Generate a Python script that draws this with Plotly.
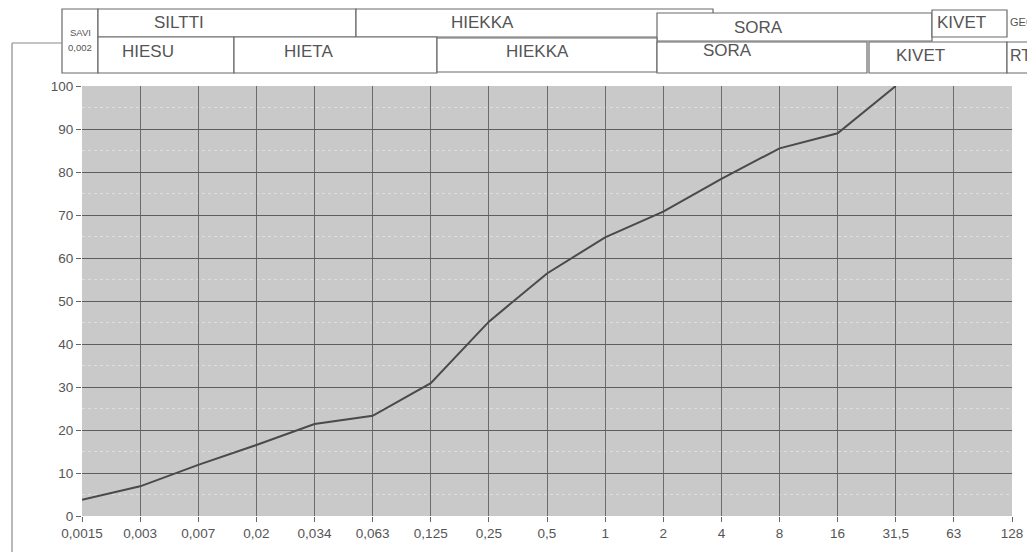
import plotly.graph_objects as go

# ---- data ----
sizes = ["0,0015", "0,003", "0,007", "0,02", "0,034", "0,063", "0,125", "0,25",
         "0,5", "1", "2", "4", "8", "16", "31,5", "63", "128"]
passing = [3.8, 6.9, 11.9, 16.5, 21.4, 23.3, 30.9, 45.2,
           56.4, 64.8, 70.8, 78.4, 85.5, 89.0, 100.0, None, None]

# header table labels
top_labels = ["SILTTI", "HIEKKA", "SORA", "KIVET", "GEO"]
bottom_labels = ["HIESU", "HIETA", "HIEKKA", "SORA", "KIVET", "RT"]
savi_labels = ["SAVI", "0,002"]

# page body has an 8px margin; plot area in the page: x 82..1012, y 86..516
OFF = 8
W, H = 1035 - OFF, 560 - 2 * OFF
PL, PT, PW, PH = 82, 86, 930, 430
L, T = PL - OFF, PT - OFF
R, B = W - L - PW, H - T - PH


def px(x):
    return (x - PL) / PW


def py(y):
    return (PT + PH - y) / PH


fig = go.Figure()
fig.add_trace(go.Scatter(
    x=sizes, y=passing, mode="lines",
    line=dict(color="#4a4a4a", width=2),
    connectgaps=False, showlegend=False, hoverinfo="x+y"))

TXT = "#555555"
fnt = "Liberation Sans, Arial, sans-serif"

fig.update_layout(
    width=W, height=H,
    margin=dict(l=L, r=R, t=T, b=B),
    paper_bgcolor="white",
    plot_bgcolor="#c9c9c9",
    font=dict(family=fnt, color=TXT, size=13.5),
    xaxis=dict(
        type="category", range=[0, len(sizes) - 1],
        showgrid=True, gridcolor="#6c6c6c", gridwidth=1.2,
        ticks="outside", ticklen=5, tickcolor="#666666",
        tickfont=dict(size=13.5, color=TXT),
        showline=False, zeroline=False,
    ),
    yaxis=dict(
        range=[0, 100], tickvals=list(range(0, 101, 10)),
        showgrid=True, gridcolor="#5e5e5e", gridwidth=1.4,
        ticks="outside", ticklen=5, tickcolor="#666666",
        tickfont=dict(size=13.5, color=TXT),
        showline=False, zeroline=False,
        minor=dict(tickvals=list(range(5, 100, 10)), showgrid=True,
                   gridcolor="#dedede", griddash="dot", gridwidth=1),
    ),
)

# header boxes (pixel rectangles in page coordinates)
boxes = [
    (62, 9, 98, 73),     # SAVI
    (98, 9, 356, 37),    # SILTTI
    (356, 9, 713, 37),   # HIEKKA top
    (657, 13, 932, 41),  # SORA top
    (932, 10, 1007, 37), # KIVET top
    (98, 37, 234, 73),   # HIESU
    (234, 37, 437, 73),  # HIETA
    (437, 38, 657, 72),  # HIEKKA bottom
    (657, 42, 867, 73),  # SORA bottom
    (869, 42, 1007, 73), # KIVET bottom
    (1007, 42, 1045, 73),# RT
]
for (x0, y0, x1, y1) in boxes:
    fig.add_shape(type="rect", xref="paper", yref="paper",
                  x0=px(x0), x1=px(x1), y0=py(y1), y1=py(y0),
                  line=dict(color="#6a6a6a", width=1.2), fillcolor="white",
                  layer="above")

# bracket line on the left
fig.add_shape(type="line", xref="paper", yref="paper",
              x0=px(12), x1=px(62), y0=py(43), y1=py(43),
              line=dict(color="#8a8a8a", width=1.2))
fig.add_shape(type="line", xref="paper", yref="paper",
              x0=px(12), x1=px(12), y0=py(43), y1=py(570),
              line=dict(color="#8a8a8a", width=1.2))

top_pos = [(179, 22, "center", 17), (482, 22, "center", 17), (758, 27, "center", 17),
           (961, 22, "center", 17), (1008, 22, "left", 11)]
bot_pos = [(148, 52, "center", 17), (308, 52, "center", 17), (537, 52, "center", 17),
           (727, 50, "center", 17), (920, 55, "center", 17), (1008, 55, "left", 16)]
for lab, (x, y, a, s) in zip(top_labels + bottom_labels, top_pos + bot_pos):
    fig.add_annotation(xref="paper", yref="paper", x=px(x), y=py(y),
                       text=lab, showarrow=False, xanchor=a, yanchor="middle",
                       font=dict(size=s, color=TXT, family=fnt))
for lab, y in zip(savi_labels, [32, 47]):
    fig.add_annotation(xref="paper", yref="paper", x=px(80), y=py(y),
                       text=lab, showarrow=False, xanchor="center", yanchor="middle",
                       font=dict(size=9.5, color=TXT, family=fnt))

fig.write_html("out.html")
